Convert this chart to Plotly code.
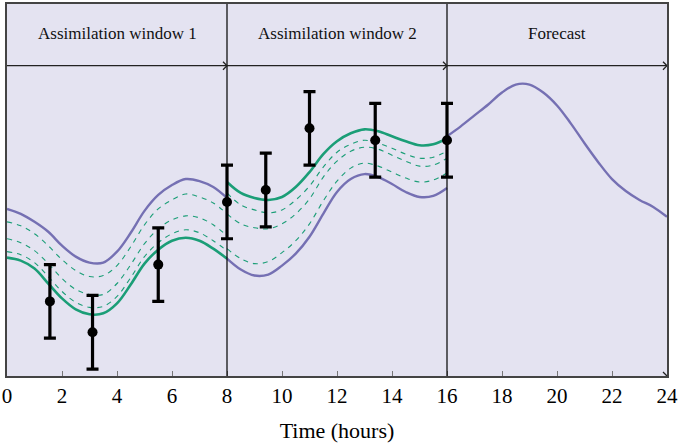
import plotly.graph_objects as go

# ---------------- data ----------------
hours_w1 = [0, 0.5, 1, 1.5, 2, 2.5, 3, 3.5, 4, 4.5, 5, 5.5, 6, 6.5, 7, 7.5, 8]
hours_w2 = [8, 8.5, 9, 9.5, 10, 10.5, 11, 11.5, 12, 12.5, 13, 13.5, 14, 14.5, 15, 15.5, 16]
hours_fc = [16, 16.5, 17, 17.5, 18, 18.5, 19, 19.5, 20, 20.5, 21, 21.5, 22, 22.5, 23, 23.5, 24]

background_w1 = [16.8, 16.3, 15.5, 14.5, 13.1, 12.0, 11.4, 11.4, 12.5, 14.4, 16.6, 18.2, 19.2, 19.8, 19.6, 19.0, 17.9]
analysis_w1 = [11.9, 11.6, 10.8, 9.3, 7.8, 6.7, 6.2, 6.3, 7.3, 9.2, 11.3, 12.7, 13.6, 13.9, 13.6, 12.8, 11.8]
iterate1_w1 = [15.5, 15.1, 14.3, 13.1, 11.7, 10.6, 10.0, 10.1, 11.1, 13.0, 15.2, 16.8, 17.7, 18.3, 18.0, 17.4, 16.3]
iterate2_w1 = [13.8, 13.4, 12.6, 11.3, 9.8, 8.7, 8.2, 8.2, 9.3, 11.2, 13.3, 14.8, 15.7, 16.1, 15.9, 15.2, 14.1]
iterate3_w1 = [12.5, 12.2, 11.4, 10.0, 8.5, 7.4, 6.9, 7.0, 8.0, 9.9, 12.0, 13.4, 14.3, 14.7, 14.4, 13.6, 12.6]

background_w2 = [11.8, 10.7, 10.1, 10.2, 11.1, 12.3, 14.0, 16.3, 18.5, 19.8, 20.3, 20.0, 19.3, 18.5, 18.0, 18.1, 18.9]
analysis_w2 = [19.5, 18.4, 17.9, 17.7, 18.0, 19.0, 20.5, 22.3, 23.6, 24.4, 24.8, 24.6, 24.1, 23.6, 23.2, 23.3, 23.9]
iterate1_w2 = [18.4, 17.2, 16.7, 16.4, 16.7, 17.7, 19.1, 21.0, 22.5, 23.3, 23.7, 23.4, 22.9, 22.3, 21.9, 22.0, 22.6]
iterate2_w2 = [16.3, 15.3, 14.9, 14.8, 15.3, 16.3, 17.8, 20.0, 21.6, 22.6, 23.0, 22.8, 22.2, 21.6, 21.1, 21.2, 21.9]
iterate3_w2 = [12.8, 11.8, 11.3, 11.5, 12.4, 13.6, 15.3, 17.6, 19.6, 20.9, 21.4, 21.1, 20.5, 19.9, 19.5, 19.7, 20.4]

forecast = [24.1, 25.1, 26.2, 27.3, 28.5, 29.3, 29.3, 28.5, 27.2, 25.4, 23.4, 21.5, 19.8, 18.6, 17.7, 17.0, 16.0]

obs_hours = [1.56, 3.11, 5.5, 8.0, 9.41, 11.0, 13.39, 16.0]
obs_values = [7.5, 4.4, 11.2, 17.5, 18.7, 24.9, 23.7, 23.7]
obs_error = [3.7, 3.7, 3.7, 3.7, 3.7, 3.7, 3.7, 3.7]

window_labels = ["Assimilation window 1", "Assimilation window 2", "Forecast"]
window_centers = [4, 12, 20]
window_bounds = [8, 16]
tick_values = [0, 2, 4, 6, 8, 10, 12, 14, 16, 18, 20, 22, 24]

# ---------------- style ----------------
PURPLE = "#7570b3"
GREEN = "#1b9e77"
BG = "#E4E3F1"
SERIF = "Liberation Serif, Times New Roman, serif"
Y_TOP = 37.4
HEADER_Y = 31.2
LABEL_Y = 34.4

fig = go.Figure()

def add_line(x, y, color, width, dash="solid"):
    fig.add_trace(go.Scatter(
        x=x, y=y, mode="lines",
        line=dict(color=color, width=width, dash=dash, shape="spline", smoothing=1.0),
        hoverinfo="skip", showlegend=False))

for it in (iterate1_w1, iterate2_w1, iterate3_w1):
    add_line(hours_w1, it, GREEN, 1.1, "5px,5px")
add_line(hours_w1, background_w1, PURPLE, 2.4)
add_line(hours_w1, analysis_w1, GREEN, 2.6)

for it in (iterate1_w2, iterate2_w2, iterate3_w2):
    add_line(hours_w2, it, GREEN, 1.1, "5px,5px")
add_line(hours_w2, background_w2, PURPLE, 2.4)
add_line(hours_w2, analysis_w2, GREEN, 2.6)

add_line(hours_fc, forecast, PURPLE, 2.4)

fig.add_trace(go.Scatter(
    x=obs_hours, y=obs_values, mode="markers",
    marker=dict(color="black", size=10),
    error_y=dict(type="data", array=obs_error, visible=True,
                 color="black", thickness=3.2, width=6),
    hoverinfo="skip", showlegend=False))

shapes = []
for b in window_bounds:
    shapes.append(dict(type="line", xref="x", yref="y", x0=b, x1=b, y0=0, y1=Y_TOP,
                       line=dict(color="black", width=1.2), layer="above"))
shapes.append(dict(type="line", xref="x", yref="y", x0=0, x1=24, y0=HEADER_Y, y1=HEADER_Y,
                   line=dict(color="#222222", width=1.4), layer="above"))
for ax, ay in [(8, HEADER_Y), (16, HEADER_Y), (24, HEADER_Y), (24, 0)]:
    shapes.append(dict(type="path", xref="x", yref="y", xsizemode="pixel", ysizemode="pixel",
                       xanchor=ax, yanchor=ay, path="M -4 4 L 0 0 L -4 -4",
                       line=dict(color="#222222", width=1.3), layer="above"))

annotations = []
for lab, cx in zip(window_labels, window_centers):
    annotations.append(dict(x=cx, y=LABEL_Y, xref="x", yref="y", text=lab, showarrow=False,
                            font=dict(family=SERIF, size=17, color="#111111")))

fig.update_layout(
    width=680, height=445,
    margin=dict(l=7, r=10, t=2, b=69),
    paper_bgcolor="white", plot_bgcolor=BG,
    shapes=shapes, annotations=annotations,
    xaxis=dict(range=[0, 24], tickvals=tick_values, ticks="inside", ticklen=5,
               tickcolor="#777777", tickwidth=1, ticklabeloverflow="allow",
               showgrid=False, zeroline=False,
               showline=True, linecolor="#444444", linewidth=1.6, mirror=True,
               tickfont=dict(family=SERIF, size=21, color="black"),
               title=dict(text="Time (hours)", font=dict(family=SERIF, size=22, color="black"),
                          standoff=16)),
    yaxis=dict(range=[0, Y_TOP], showticklabels=False, ticks="", showgrid=False,
               zeroline=False, showline=True, linecolor="#444444", linewidth=1.6, mirror=True),
)

fig.write_html("out.html")
